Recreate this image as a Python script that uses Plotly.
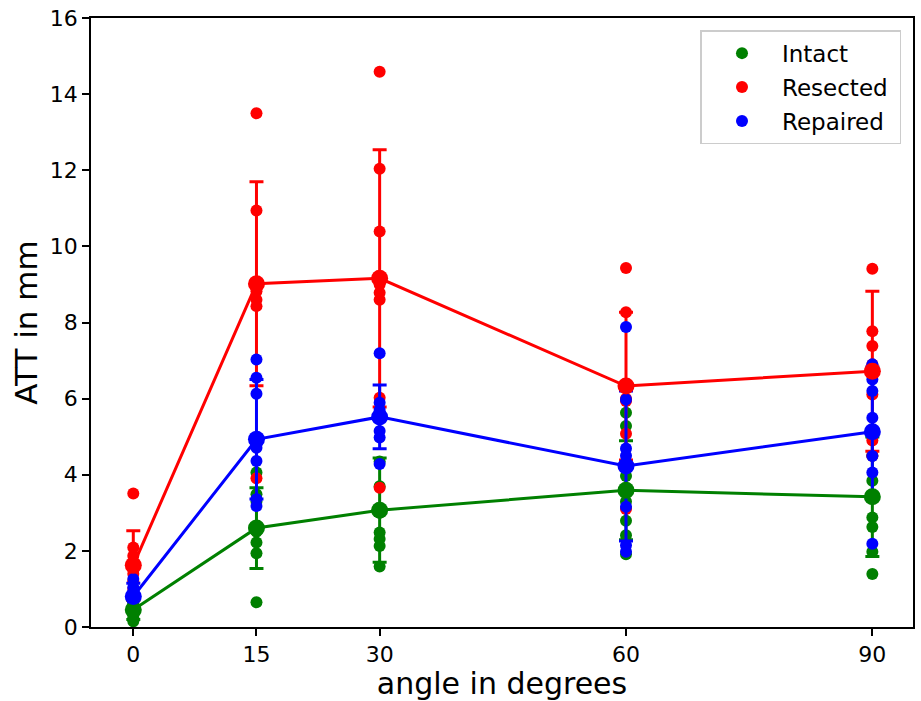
import plotly.graph_objects as go

# Knee flexion angles (degrees)
angles = [0, 15, 30, 60, 90]

# Individual specimen measurements of anterior tibial translation (mm)
intact_pts = [
    [0.15, 0.25, 0.35, 0.45, 0.55, 0.65, 0.75],
    [0.65, 1.94, 2.22, 2.50, 3.30, 3.49, 4.06],
    [1.59, 2.13, 2.31, 2.48, 3.00, 3.70, 4.35],
    [1.91, 2.41, 2.79, 3.30, 3.60, 3.97, 5.28, 5.63],
    [1.39, 1.98, 2.63, 2.88, 3.84, 4.50, 5.00],
]
resected_pts = [
    [1.00, 1.20, 1.40, 1.55, 1.87, 2.09, 3.51],
    [3.91, 8.43, 8.60, 8.82, 8.90, 10.94, 13.50],
    [3.66, 6.02, 8.60, 8.78, 9.00, 10.39, 12.04, 14.59],
    [3.10, 5.08, 5.94, 6.00, 6.30, 8.27, 9.43],
    [4.50, 4.90, 6.11, 6.90, 7.38, 7.77, 9.41],
]
repaired_pts = [
    [0.40, 0.60, 0.82, 0.90, 1.04, 1.26],
    [3.18, 3.36, 4.36, 4.71, 4.80, 6.13, 6.55, 7.03],
    [4.28, 4.98, 5.15, 5.60, 5.70, 5.89, 7.19],
    [1.98, 2.15, 3.16, 4.50, 4.69, 5.98, 7.88],
    [2.19, 4.06, 4.49, 5.50, 6.20, 6.50, 6.90],
]

# Group means and standard deviations
intact_mean = [0.45, 2.60, 3.07, 3.59, 3.42]
intact_std = [0.25, 1.06, 1.37, 1.30, 1.57]
resected_mean = [1.62, 9.02, 9.16, 6.33, 6.72]
resected_std = [0.91, 2.68, 3.38, 1.94, 2.10]
repaired_mean = [0.80, 4.93, 5.52, 4.23, 5.13]
repaired_std = [0.35, 1.57, 0.84, 1.97, 1.70]

groups = [
    ("Intact", "#008000", intact_pts, intact_mean, intact_std),
    ("Resected", "#ff0000", resected_pts, resected_mean, resected_std),
    ("Repaired", "#0000ff", repaired_pts, repaired_mean, repaired_std),
]

FONT = "DejaVu Sans"
fig = go.Figure()

# Scattered specimens followed by each group's error bars
for name, color, pts, mean, std in groups:
    xs, ys = [], []
    for a, vals in zip(angles, pts):
        xs.extend([a] * len(vals))
        ys.extend(vals)
    fig.add_trace(go.Scatter(
        x=xs, y=ys, mode="markers", name=name + " ", legendgroup=name,
        marker=dict(color=color, size=12, line=dict(width=0)),
        hoverinfo="skip",
    ))
    fig.add_trace(go.Scatter(
        x=angles, y=mean, mode="markers", showlegend=False,
        marker=dict(size=1, color="rgba(0,0,0,0)"),
        error_y=dict(type="data", array=std, visible=True,
                     color=color, thickness=3, width=7),
        hoverinfo="skip",
    ))

# Mean curves on top
for name, color, pts, mean, std in groups:
    fig.add_trace(go.Scatter(
        x=angles, y=mean, mode="lines+markers", showlegend=False,
        line=dict(color=color, width=3),
        marker=dict(color=color, size=17, line=dict(width=0)),
    ))

fig.update_layout(
    width=921, height=701,
    margin=dict(l=91, r=6, t=18, b=74),
    paper_bgcolor="white", plot_bgcolor="white",
    font=dict(family=FONT, color="black", size=22),
    showlegend=True,
    legend=dict(
        x=0.986, y=0.98, xanchor="right", yanchor="top",
        bgcolor="white", bordercolor="#cccccc", borderwidth=1.5,
        font=dict(family=FONT, size=23, color="black"),
        tracegroupgap=1, itemwidth=70,
    ),
)

fig.update_xaxes(
    range=[-5.15, 94.95], tickvals=angles, ticktext=[str(a) for a in angles],
    showline=True, linecolor="black", linewidth=1.5, mirror=True,
    ticks="outside", ticklen=7, tickwidth=1.5, tickcolor="black",
    showgrid=False, zeroline=False,
    tickfont=dict(family=FONT, size=22),
    title=dict(text="angle in degrees", font=dict(family=FONT, size=30), standoff=2),
)
fig.update_yaxes(
    range=[0, 16], tickvals=list(range(0, 17, 2)),
    showline=True, linecolor="black", linewidth=1.5, mirror=True,
    ticks="outside", ticklen=7, tickwidth=1.5, tickcolor="black",
    showgrid=False, zeroline=False,
    tickfont=dict(family=FONT, size=22),
    title=dict(text="ATT in mm", font=dict(family=FONT, size=31), standoff=3),
)

fig.write_html("out.html")
